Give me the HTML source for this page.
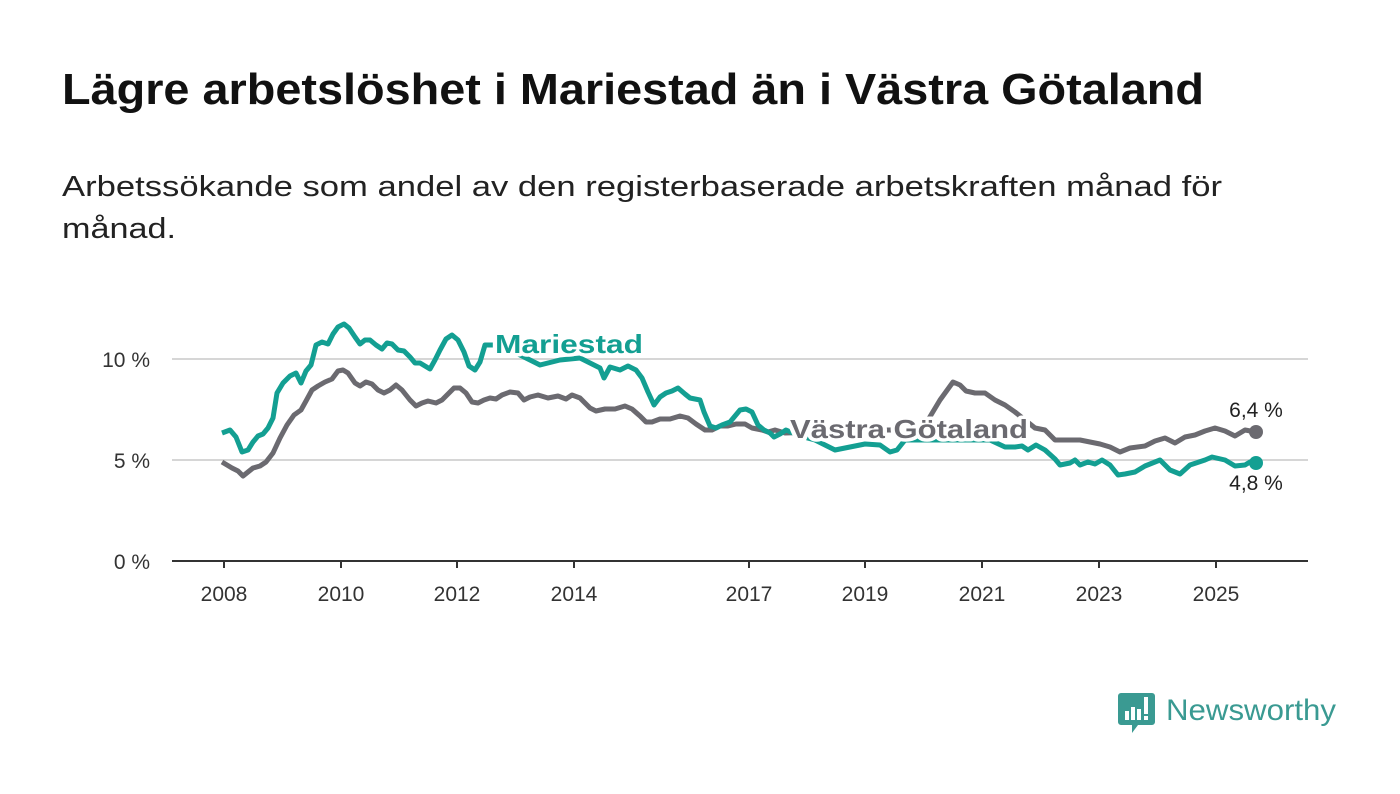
<!DOCTYPE html>
<html><head><meta charset="utf-8"><style>
body{margin:0;background:#fff;}
svg{display:block;font-family:"Liberation Sans","DejaVu Sans",sans-serif;}
</style></head><body>
<svg width="1400" height="794" viewBox="0 0 1400 794">
<rect width="1400" height="794" fill="#fff"/>
<text x="62" y="104" font-size="44" font-weight="bold" fill="#111" textLength="1142" lengthAdjust="spacingAndGlyphs">Lägre arbetslöshet i Mariestad än i Västra Götaland</text>
<text x="62" y="196" font-size="29" fill="#222" textLength="1160" lengthAdjust="spacingAndGlyphs">Arbetssökande som andel av den registerbaserade arbetskraften månad för</text>
<text x="62" y="238" font-size="29" fill="#222" textLength="114" lengthAdjust="spacingAndGlyphs">månad.</text>

<line x1="172" y1="359" x2="1308" y2="359" stroke="#d6d6d6" stroke-width="2"/>
<line x1="172" y1="460" x2="1308" y2="460" stroke="#d6d6d6" stroke-width="2"/>
<line x1="172" y1="561" x2="1308" y2="561" stroke="#333" stroke-width="2"/>
<g font-size="21" fill="#333" text-anchor="end">
<text x="150" y="367">10 %</text><text x="150" y="468">5 %</text><text x="150" y="569">0 %</text>
</g>
<g stroke="#333" stroke-width="2">
<line x1="224" y1="561" x2="224" y2="568"/><line x1="341" y1="561" x2="341" y2="568"/><line x1="457" y1="561" x2="457" y2="568"/><line x1="574" y1="561" x2="574" y2="568"/><line x1="749" y1="561" x2="749" y2="568"/><line x1="865" y1="561" x2="865" y2="568"/><line x1="982" y1="561" x2="982" y2="568"/><line x1="1099" y1="561" x2="1099" y2="568"/><line x1="1216" y1="561" x2="1216" y2="568"/>
</g>
<g font-size="21" fill="#333" text-anchor="middle">
<text x="224" y="601">2008</text><text x="341" y="601">2010</text><text x="457" y="601">2012</text><text x="574" y="601">2014</text><text x="749" y="601">2017</text><text x="865" y="601">2019</text><text x="982" y="601">2021</text><text x="1099" y="601">2023</text><text x="1216" y="601">2025</text>
</g>

<polyline fill="none" stroke="#6b6a70" stroke-width="5" stroke-linejoin="round" points="222,462 232,468 238,471 243,476 248,472 253,468 260,466 266,462 273,453 280,438 287,425 294,415 301,410 306,401 312,390 318,386 325,382 332,379 338,371 343,370 348,373 355,383 360,386 366,382 372,384 378,390 384,393 390,390 396,385 402,390 410,400 416,406 422,403 428,401 436,403 442,400 448,394 454,388 460,388 466,393 472,402 478,403 484,400 490,398 496,399 502,395 510,392 518,393 524,400 530,397 538,395 548,398 558,396 566,399 572,395 580,398 590,408 596,411 605,409 615,409 625,406 632,409 640,416 646,422 652,422 660,419 670,419 680,416 688,418 696,424 705,430 712,430 720,426 728,426 736,424 745,424 752,428 762,430 768,432 775,430 785,433 820,432 860,430 900,430 925,425 940,400 953,382 960,385 966,391 975,393 985,393 995,400 1005,405 1015,412 1025,420 1035,428 1045,430 1055,440 1065,440 1080,440 1090,442 1100,444 1110,447 1120,452 1130,448 1145,446 1155,441 1165,438 1175,443 1185,437 1195,435 1205,431 1215,428 1225,431 1235,436 1245,430 1256,432"/>
<polyline fill="none" stroke="#139f92" stroke-width="5" stroke-linejoin="round" points="222,433 230,430 236,437 242,452 248,450 253,442 258,436 263,434 268,428 273,418 277,393 283,383 290,376 296,373 301,383 306,371 311,365 316,345 322,342 328,344 333,334 338,327 344,324 349,328 355,337 360,344 365,340 370,340 376,345 382,349 387,343 392,344 398,350 404,351 410,357 415,363 420,363 425,366 430,369 435,360 440,350 446,339 452,335 458,340 464,352 469,366 475,370 480,362 485,345 500,345 520,355 540,365 560,360 580,358 600,368 604,378 610,367 620,370 628,366 636,370 642,378 648,392 654,405 660,397 666,393 672,391 678,388 685,394 690,398 700,400 704,412 710,426 716,428 722,425 730,422 740,410 746,409 752,412 758,425 764,430 770,433 774,437 780,434 786,430 800,436 815,440 825,445 835,450 850,447 865,444 880,445 890,452 897,450 905,440 930,440 960,440 990,440 1005,447 1015,447 1022,446 1028,450 1036,445 1045,450 1055,459 1060,465 1070,463 1075,460 1080,465 1088,462 1095,464 1102,460 1110,465 1118,475 1125,474 1135,472 1145,466 1160,460 1170,470 1180,474 1190,465 1205,460 1212,457 1225,460 1235,466 1245,465 1250,462 1256,463"/>
<circle cx="1256" cy="432" r="7" fill="#6b6a70"/>
<circle cx="1256" cy="463" r="7" fill="#139f92"/>

<text x="495" y="353" font-size="26" font-weight="bold" fill="#139f92" stroke="#fff" stroke-width="7" paint-order="stroke" stroke-linejoin="round" textLength="148" lengthAdjust="spacingAndGlyphs">Mariestad</text>
<text x="790" y="438" font-size="26" font-weight="bold" fill="#6b6a70" stroke="#fff" stroke-width="7" paint-order="stroke" stroke-linejoin="round" textLength="238" lengthAdjust="spacingAndGlyphs">Västra Götaland</text>
<text x="1256" y="417" font-size="21" fill="#222" text-anchor="middle" stroke="#fff" stroke-width="5" paint-order="stroke">6,4 %</text>
<text x="1256" y="490" font-size="21" fill="#222" text-anchor="middle" stroke="#fff" stroke-width="5" paint-order="stroke">4,8 %</text>

<g>
<path d="M1121,693 h31 a3,3 0 0 1 3,3 v26 a3,3 0 0 1 -3,3 h-14 l-6,8 v-8 h-11 a3,3 0 0 1 -3,-3 v-26 a3,3 0 0 1 3,-3z" fill="#3a9a92"/>
<rect x="1125" y="711" width="4" height="9" fill="#fff"/><rect x="1131" y="707" width="4" height="13" fill="#fff"/><rect x="1137" y="709" width="4" height="11" fill="#fff"/><rect x="1144" y="697" width="4" height="17" fill="#fff"/><rect x="1144" y="716" width="4" height="4" fill="#fff"/>
<text x="1166" y="720" font-size="30" fill="#3a9a92" textLength="170" lengthAdjust="spacingAndGlyphs">Newsworthy</text>
</g>
</svg>
</body></html>
